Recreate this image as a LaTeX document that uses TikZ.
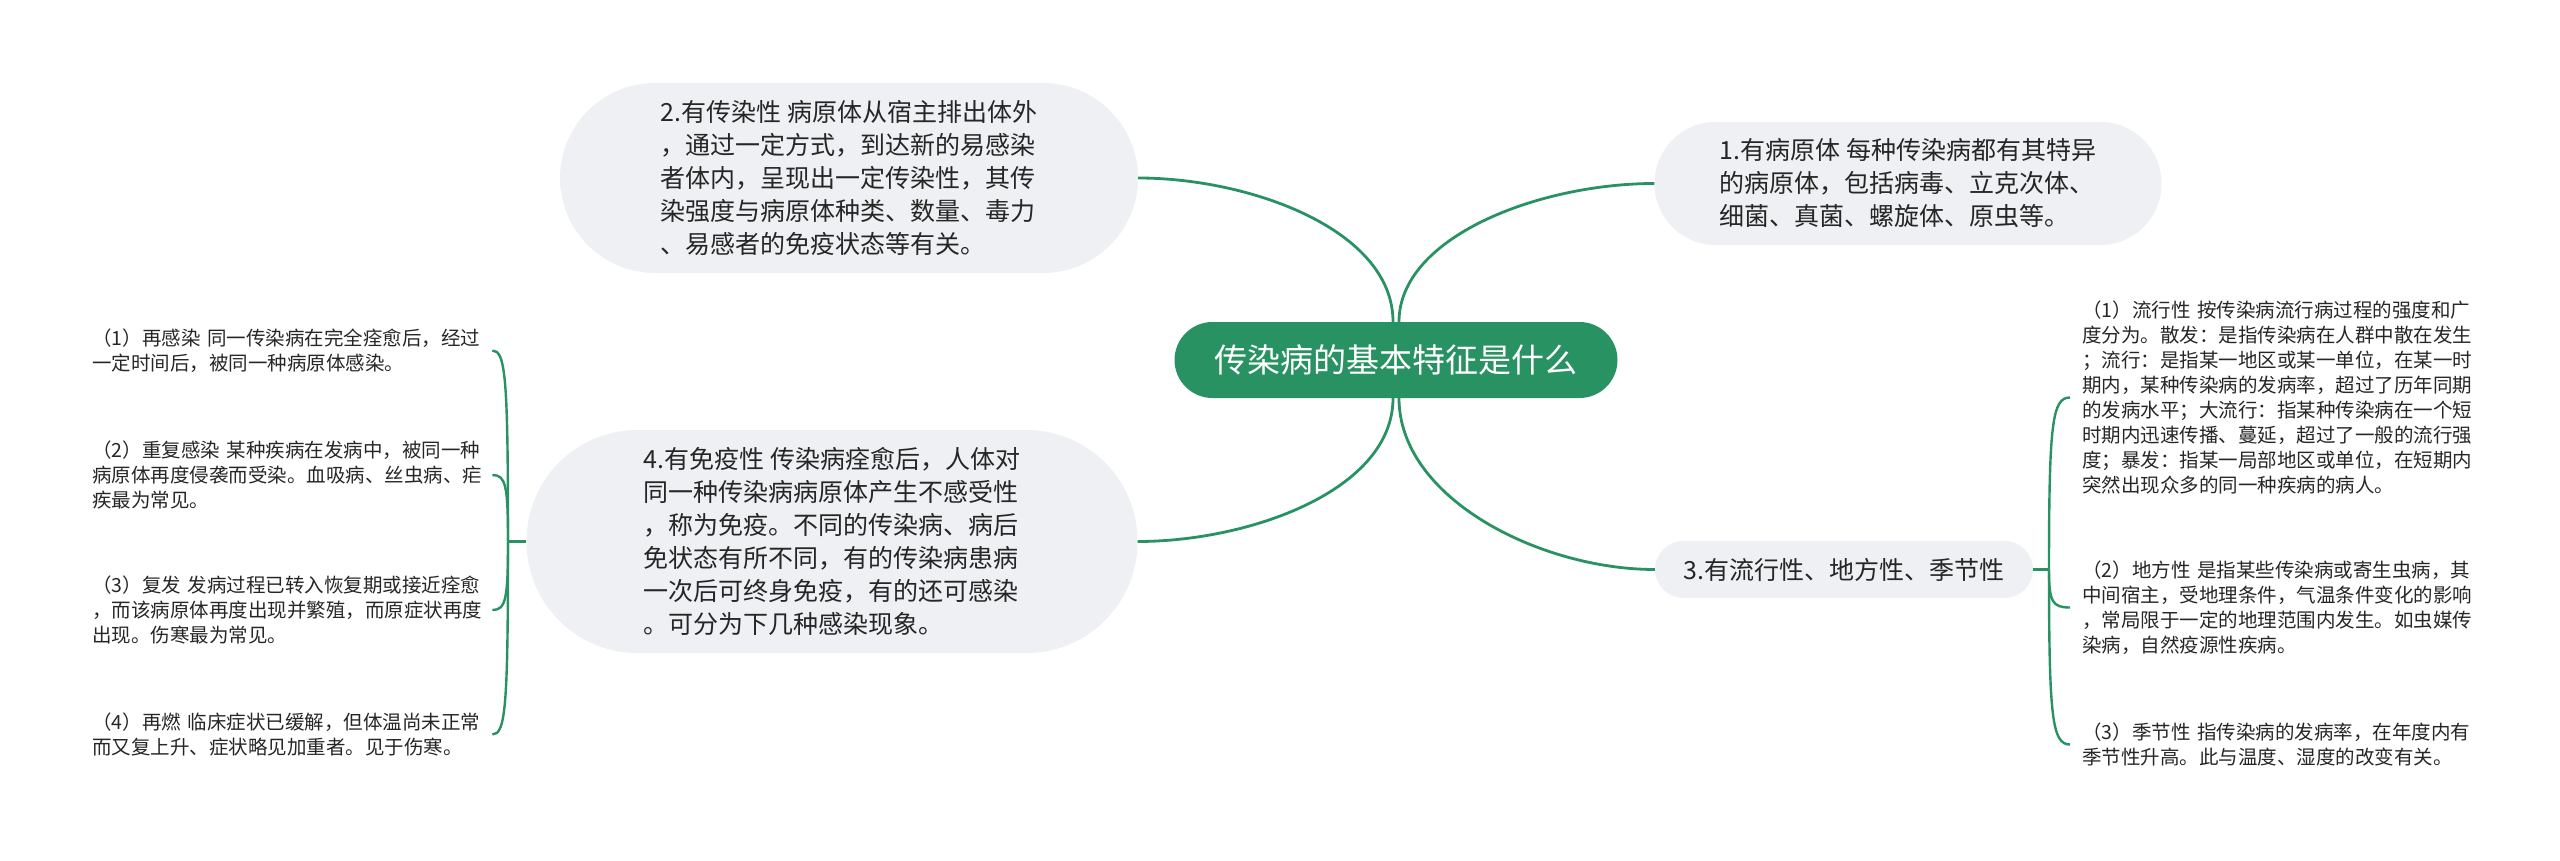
\documentclass[tikz,border=0pt]{standalone}
\usepackage{fontspec}
\usetikzlibrary{calc}
\newfontfamily\cjk{Noto Sans CJK SC}
\definecolor{mmgreen}{RGB}{40,146,98}
\definecolor{mmgray}{RGB}{238,240,243}
\definecolor{mmtext}{RGB}{38,38,38}
\begin{document}
\begin{tikzpicture}[x=1pt,y=-1pt,
  link/.style={draw=mmgreen, line width=2.8pt},
  brace/.style={draw=mmgreen, line width=2.4pt},
  root/.style={fill=mmgreen, text=white, font=\cjk\fontsize{33}{40}\selectfont, minimum width=443pt, minimum height=76pt, rounded corners=38pt, inner sep=0pt},
  topic/.style={fill=mmgray, text=mmtext, align=left, inner sep=0pt, font=\cjk\fontsize{25}{33}\selectfont},
  leaf/.style={text=mmtext, align=left, inner sep=0pt, text width=398pt, font=\cjk\fontsize{19.5}{25}\selectfont},
]
\useasboundingbox (0,0) rectangle (2560,861);
\node[root] (c) at (1396,360) {传染病的基本特征是什么};
\node[topic, minimum width=578pt, minimum height=190pt, rounded corners=95pt] (t2) at (849,178) {2.有传染性 病原体从宿主排出体外\\，通过一定方式，到达新的易感染\\者体内，呈现出一定传染性，其传\\染强度与病原体种类、数量、毒力\\、易感者的免疫状态等有关。};
\node[topic, minimum width=507pt, minimum height=123pt, rounded corners=61pt] (t1) at (1908,183.5) {1.有病原体 每种传染病都有其特异\\的病原体，包括病毒、立克次体、\\细菌、真菌、螺旋体、原虫等。};
\node[topic, minimum width=378pt, minimum height=57pt, rounded corners=28.5pt] (t3) at (1844,569.5) {3.有流行性、地方性、季节性};
\node[topic, minimum width=611pt, minimum height=223pt, rounded corners=111pt] (t4) at (832,541.5) {4.有免疫性 传染病痊愈后，人体对\\同一种传染病病原体产生不感受性\\，称为免疫。不同的传染病、病后\\免状态有所不同，有的传染病患病\\一次后可终身免疫，有的还可感染\\。可分为下几种感染现象。};
\node[leaf, anchor=west] (l1) at (92,350.5) {（1）再感染 同一传染病在完全痊愈后，经过\\一定时间后，被同一种病原体感染。};
\node[leaf, anchor=west] (l2) at (92,475) {（2）重复感染 某种疾病在发病中，被同一种\\病原体再度侵袭而受染。血吸病、丝虫病、疟\\疾最为常见。};
\node[leaf, anchor=west] (l3) at (92,610) {（3）复发 发病过程已转入恢复期或接近痊愈\\，而该病原体再度出现并繁殖，而原症状再度\\出现。伤寒最为常见。};
\node[leaf, anchor=west] (l4) at (92,734.5) {（4）再燃 临床症状已缓解，但体温尚未正常\\而又复上升、症状略见加重者。见于伤寒。};
\node[leaf, anchor=west] (r1) at (2082,397.5) {（1）流行性 按传染病流行病过程的强度和广\\度分为。散发：是指传染病在人群中散在发生\\；流行：是指某一地区或某一单位，在某一时\\期内，某种传染病的发病率，超过了历年同期\\的发病水平；大流行：指某种传染病在一个短\\时期内迅速传播、蔓延，超过了一般的流行强\\度；暴发：指某一局部地区或单位，在短期内\\突然出现众多的同一种疾病的病人。};
\node[leaf, anchor=west] (r2) at (2082,607.5) {（2）地方性 是指某些传染病或寄生虫病，其\\中间宿主，受地理条件，气温条件变化的影响\\，常局限于一定的地理范围内发生。如虫媒传\\染病，自然疫源性疾病。};
\node[leaf, anchor=west] (r3) at (2082,744.5) {（3）季节性 指传染病的发病率，在年度内有\\季节性升高。此与温度、湿度的改变有关。};
\coordinate (hl) at (508,541.5);
\coordinate (hr) at (2049,569.5);
\draw[link] ([xshift=-3pt]c.north) .. controls +(0,-92) and +(112,0) .. (t2.east);
\draw[link] ([xshift=3pt]c.north) .. controls +(0,-85) and +(-115,0) .. (t1.west);
\draw[link] ([xshift=-3pt]c.south) .. controls +(0,92) and +(112,0) .. (t4.east);
\draw[link] ([xshift=3pt]c.south) .. controls +(0,100) and +(-115,0) .. (t3.west);
\draw[brace] (t4.west) -- (hl);
\foreach \n in {l1,l2,l3,l4}{
  \draw[brace] (hl) .. controls ($(hl)!0.85!(hl |- \n.east)$) and ($([xshift=2pt]\n.east)!0.85!(hl |- \n.east)$) .. ([xshift=2pt]\n.east);
}
\draw[brace] (t3.east) -- (hr);
\foreach \n in {r1,r2,r3}{
  \draw[brace] (hr) .. controls ($(hr)!0.85!(hr |- \n.west)$) and ($([xshift=-12pt]\n.west)!0.85!(hr |- \n.west)$) .. ([xshift=-12pt]\n.west);
}
\end{tikzpicture}
\end{document}
